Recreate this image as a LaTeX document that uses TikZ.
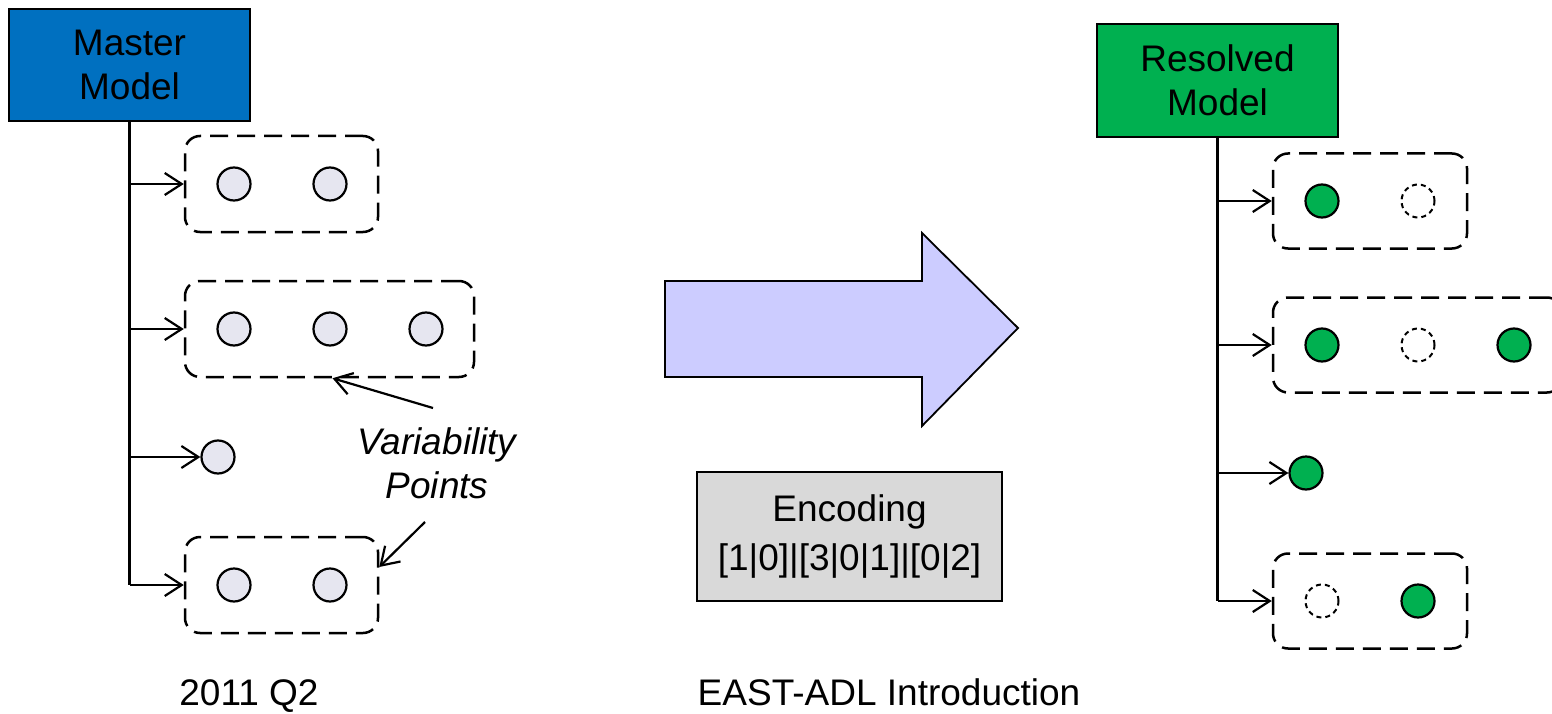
\documentclass[tikz,border=0pt]{standalone}
\usepackage{fontspec}
\setmainfont{Liberation Sans}
\usetikzlibrary{arrows.meta,calc}
\definecolor{mblue}{HTML}{0070C0}
\definecolor{mgreen}{HTML}{00B050}
\definecolor{vpfill}{HTML}{E6E6F0}
\definecolor{arrfill}{HTML}{CCCCFF}
\definecolor{encfill}{HTML}{D9D9D9}
\begin{document}
\begin{tikzpicture}[x=1pt,y=-1pt,
  every node/.style={font=\fontsize{37}{44}\selectfont},
  modelbox/.style={draw=black,line width=2.5pt,minimum width=241pt,minimum height=112pt,align=center,inner sep=0pt},
  group/.style={draw=black,line width=2.5pt,dash pattern=on 18pt off 9pt,rounded corners=15pt,minimum height=96pt,inner sep=0pt},
  vp/.style={circle,draw=black,line width=2.2pt,fill=vpfill,minimum size=33pt,inner sep=0pt},
  vpon/.style={circle,draw=black,line width=2.2pt,fill=mgreen,minimum size=33pt,inner sep=0pt},
  vpoff/.style={circle,draw=black,line width=2pt,dash pattern=on 5pt off 4pt,fill=white,minimum size=33pt,inner sep=0pt},
  trunk/.style={line width=2.5pt},
  branch/.style={line width=2.2pt,-{Straight Barb[length=17pt,width=22pt]}},
]
\useasboundingbox (0,0) rectangle (1552,714);
\clip (0,0) rectangle (1552,714);

% ---------- left: master model ----------
\node[modelbox,fill=mblue] (master) at (129.5,65) {Master\\Model};
\node[group,minimum width=193pt] (L1) at (281.5,184) {};
\node[group,minimum width=289pt] (L2) at (329.5,329) {};
\node[vp] (L3) at (218,457) {};
\node[group,minimum width=193pt] (L4) at (281.5,585) {};
\node[vp] (L1a) at (234,184) {};
\node[vp] (L1b) at (330,184) {};
\node[vp] (L2a) at (234,329) {};
\node[vp] (L2b) at (330,329) {};
\node[vp] (L2c) at (426,329) {};
\node[vp] (L4a) at (234,585) {};
\node[vp] (L4b) at (330,585) {};

\draw[trunk] (master.south) -- (master.south |- L4.west);
\draw[branch] (master.south |- L1.west) -- (L1.west);
\draw[branch] (master.south |- L2.west) -- (L2.west);
\draw[branch] (master.south |- L3.west) -- (L3.west);
\draw[branch] (master.south |- L4.west) -- (L4.west);

\node[align=center,font=\fontsize{37}{44}\selectfont\itshape] (vptext) at (437,463) {Variability\\Points};
\coordinate (c1) at (433,408);
\coordinate (c2) at (425,522);
\draw[branch] (c1) -- ($(L2.south)+(3,0)$);
\draw[branch] (c2) -- ($(L4.east)+(0,-18)$);

% ---------- middle ----------
\filldraw[fill=arrfill,draw=black,line width=1.8pt,line join=miter]
  (665,281) -- (922,281) -- (922,233) -- (1018,328) -- (922,426) -- (922,377) -- (665,377) -- cycle;
\node[draw=black,line width=2pt,fill=encfill,minimum width=305pt,minimum height=129pt,align=center,inner sep=0pt,font=\fontsize{37}{49}\selectfont] (enc) at (849.5,536.5) {Encoding\\{[1|0]|[3|0|1]|[0|2]}};

% ---------- right: resolved model ----------
\node[modelbox,fill=mgreen,minimum height=113pt] (resolved) at (1217.5,80.5) {Resolved\\Model};
\node[group,minimum width=194pt,minimum height=95pt] (R1) at (1370,201) {};
\node[group,minimum width=289pt,minimum height=95pt] (R2) at (1417.5,345) {};
\node[vpon] (R3) at (1306,473) {};
\node[group,minimum width=194pt,minimum height=95pt] (R4) at (1370,601) {};
\node[vpon] (R1a) at (1322,201) {};
\node[vpoff] (R1b) at (1418,201) {};
\node[vpon] (R2a) at (1322,345) {};
\node[vpoff] (R2b) at (1418,345) {};
\node[vpon] (R2c) at (1514,345) {};
\node[vpoff] (R4a) at (1322,601) {};
\node[vpon] (R4b) at (1418,601) {};

\draw[trunk] (resolved.south) -- (resolved.south |- R4.west);
\draw[branch] (resolved.south |- R1.west) -- (R1.west);
\draw[branch] (resolved.south |- R2.west) -- (R2.west);
\draw[branch] (resolved.south |- R3.west) -- (R3.west);
\draw[branch] (resolved.south |- R4.west) -- (R4.west);

% ---------- footer ----------
\node[anchor=base] (f1) at (249,705) {2011 Q2};
\node[anchor=base] (f2) at (889,705) {EAST-ADL Introduction};
\end{tikzpicture}
\end{document}
